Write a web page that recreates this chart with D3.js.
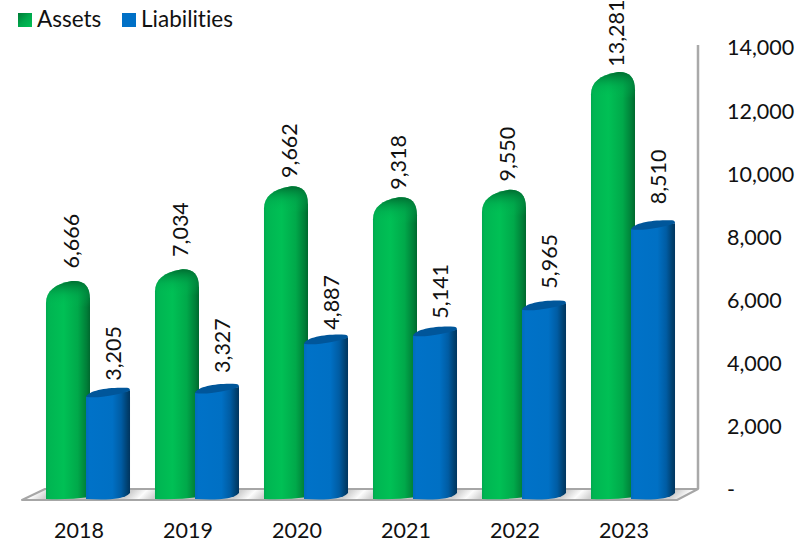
<!DOCTYPE html>
<html>
<head>
<meta charset="utf-8">
<script src="https://cdnjs.cloudflare.com/ajax/libs/d3/7.8.5/d3.min.js"></script>
<style>
  html, body { margin: 0; padding: 0; background: #fff; }
  text { font-family: Lato, "Open Sans", sans-serif; fill: #111; font-variant-ligatures: none; }
</style>
</head>
<body>
<div id="my_dataviz"></div>
<script>
var years = ["2018", "2019", "2020", "2021", "2022", "2023"];
var seriesNames = ["Assets", "Liabilities"];
var assets = [6666, 7034, 9662, 9318, 9550, 13281];
var liabilities = [3205, 3327, 4887, 5141, 5965, 8510];
var yTicks = [0, 2000, 4000, 6000, 8000, 10000, 12000, 14000];

// hand placed label gaps above each bar
var assetGaps = [11, 11, 7, 6, 7, 4];
var liabilityGaps = [8, 12, 6, 9, 13, 17];

var width = 809, height = 543;
var fontSize = 21.5;

var svg = d3.select("#my_dataviz")
    .append("svg")
    .attr("width", width)
    .attr("height", height)
    .style("display", "block");

var defs = svg.append("defs");

function hGradient(id, stops) {
    var g = defs.append("linearGradient").attr("id", id)
        .attr("x1", "0").attr("x2", "1").attr("y1", "0").attr("y2", "0");
    stops.forEach(function(s) {
        g.append("stop").attr("offset", s[0]).attr("stop-color", s[1]);
    });
}

hGradient("greenBar", [[0, "#00a84f"], [0.06, "#00b552"], [0.4, "#00c055"], [0.72, "#00a94a"], [0.92, "#007f38"], [1, "#00682e"]]);
hGradient("blueBar", [[0, "#006cbe"], [0.08, "#0072c8"], [0.6, "#0070c4"], [0.8, "#005ca3"], [0.94, "#00406f"], [1, "#00355f"]]);

// dark rounding at the top of the green bars
var cap = defs.append("linearGradient").attr("id", "greenCap")
    .attr("x1", "0").attr("x2", "0").attr("y1", "0").attr("y2", "1");
cap.append("stop").attr("offset", 0).attr("stop-color", "#006b30").attr("stop-opacity", 0.95);
cap.append("stop").attr("offset", 0.55).attr("stop-color", "#00a24b").attr("stop-opacity", 0.35);
cap.append("stop").attr("offset", 1).attr("stop-color", "#00c055").attr("stop-opacity", 0);

// legend swatch
var sw = defs.append("linearGradient").attr("id", "greenSwatch")
    .attr("x1", "0").attr("x2", "1").attr("y1", "0").attr("y2", "1");
sw.append("stop").attr("offset", 0).attr("stop-color", "#007a36");
sw.append("stop").attr("offset", 0.5).attr("stop-color", "#00a84c");
sw.append("stop").attr("offset", 1).attr("stop-color", "#00c055");

// floor stripes, one white streak per gap between the bars
var fl = defs.append("linearGradient").attr("id", "floor")
    .attr("gradientUnits", "userSpaceOnUse")
    .attr("x1", 93).attr("y1", 495).attr("x2", 147.5).attr("y2", 549.5)
    .attr("spreadMethod", "repeat");
fl.append("stop").attr("offset", 0).attr("stop-color", "#c4c4c4");
fl.append("stop").attr("offset", 0.32).attr("stop-color", "#cfcfcf");
fl.append("stop").attr("offset", 0.45).attr("stop-color", "#fcfcfc");
fl.append("stop").attr("offset", 0.58).attr("stop-color", "#d0d0d0");
fl.append("stop").attr("offset", 1).attr("stop-color", "#c4c4c4");

// scales
var y = d3.scaleLinear().domain([0, 14000]).range([490, 48]);
var x = d3.scaleBand().domain(years).range([33.5, 687.5]).paddingInner(0.229).paddingOuter(0.1145);
var xSeries = d3.scaleBand().domain(seriesNames).range([0, x.bandwidth()]);

var floorY = y(0);

// wall + floor
svg.append("line")
    .attr("x1", 698).attr("x2", 698)
    .attr("y1", 45).attr("y2", floorY - 1)
    .attr("stroke", "#a9a9a9").attr("stroke-width", 2.5);

svg.append("path")
    .attr("d", "M22," + (floorY + 10) + "L45," + (floorY - 1) + "H698L677," + (floorY + 10) + "Z")
    .attr("fill", "url(#floor)")
    .attr("stroke", "#a6a6a6")
    .attr("stroke-width", 2)
    .attr("stroke-linejoin", "round");

var bottom = floorY + 9;

function greenTop(x0, x1, top) {
    return "C" + x0 + "," + (top + 10) + " " + (x0 + 9) + "," + (top + 3) + " " + (x0 + 26) + "," + top +
        "C" + (x1 - 8) + "," + (top - 1) + " " + x1 + "," + (top + 3) + " " + x1 + "," + (top + 18);
}

function greenPath(x0, w, top) {
    var x1 = x0 + w;
    return "M" + x0 + "," + bottom +
        "V" + (top + 22) + greenTop(x0, x1, top) +
        "V" + (bottom - 2) +
        "Q" + (x0 + 22) + "," + (bottom + 1) + " " + x0 + "," + bottom + "Z";
}

function greenCapPath(x0, w, top) {
    var x1 = x0 + w;
    return "M" + x0 + "," + (top + 26) +
        "V" + (top + 22) + greenTop(x0, x1, top) +
        "V" + (top + 26) + "Z";
}

function bluePath(x0, w, top) {
    var x1 = x0 + w;
    return "M" + x0 + "," + (top + 9) +
        "V" + bottom +
        "C" + (x0 + 18) + "," + (bottom + 1) + " " + (x1 - 6) + "," + (bottom + 1) + " " + x1 + "," + (bottom - 6) +
        "V" + (top + 3) +
        "Z";
}

function blueTopPath(x0, w, top) {
    var x1 = x0 + w;
    return "M" + x0 + "," + (top + 9) +
        "C" + (x0 + 3) + "," + (top + 2) + " " + (x0 + 24) + "," + (top - 1) + " " + (x1 - 3) + "," + top +
        "Q" + x1 + "," + top + " " + x1 + "," + (top + 3) +
        "C" + (x1 - 12) + "," + (top + 7) + " " + (x0 + 12) + "," + (top + 11) + " " + x0 + "," + (top + 9) + "Z";
}

var groups = svg.selectAll("g.year")
    .data(years)
    .enter()
    .append("g")
    .attr("class", "year")
    .attr("transform", function(d) { return "translate(" + x(d) + ",0)"; });

var barW = xSeries.bandwidth() + 2;

groups.append("path")
    .attr("d", function(d, i) { return greenPath(xSeries("Assets"), barW, y(assets[i]) + 1.5); })
    .attr("fill", "url(#greenBar)");

groups.append("path")
    .attr("d", function(d, i) { return greenCapPath(xSeries("Assets"), barW, y(assets[i]) + 1.5); })
    .attr("fill", "url(#greenCap)");

groups.append("path")
    .attr("d", function(d, i) { return bluePath(xSeries("Liabilities") - 2, barW, y(liabilities[i]) - 1); })
    .attr("fill", "url(#blueBar)");

groups.append("path")
    .attr("d", function(d, i) { return blueTopPath(xSeries("Liabilities") - 2, barW, y(liabilities[i]) - 1); })
    .attr("fill", "#00569a");

// value labels
function valueLabel(name, values, dx, gaps) {
    groups.append("text")
        .attr("transform", function(d, i) {
            return "translate(" + (xSeries(name) + dx) + "," + (y(values[i]) - gaps[i]) + ") rotate(-90)";
        })
        .attr("dy", "0.35em")
        .style("font-size", fontSize + "px")
        .text(function(d, i) { return d3.format(",")(values[i]); });
}
valueLabel("Assets", assets, 25, assetGaps);
valueLabel("Liabilities", liabilities, 25, liabilityGaps);

// axes
var yAxis = d3.axisRight(y)
    .tickValues(yTicks)
    .tickSize(0)
    .tickPadding(0)
    .tickFormat(function(d) { return d === 0 ? "-" : d3.format(",")(d); });

var yG = svg.append("g").attr("transform", "translate(727,0)").call(yAxis);
yG.select(".domain").remove();
yG.selectAll("text").style("font-size", fontSize + "px").style("font-family", null).attr("fill", null);

var xAxis = d3.axisBottom(x).tickSize(0).tickPadding(0);
var xG = svg.append("g").attr("transform", "translate(-9,523)").call(xAxis);
xG.select(".domain").remove();
xG.selectAll("text").style("font-size", fontSize + "px").attr("fill", null);

// legend
var legendX = d3.scaleOrdinal().domain(seriesNames).range([18, 122]);
var legendFill = d3.scaleOrdinal().domain(seriesNames).range(["url(#greenSwatch)", "#0070c6"]);

var legend = svg.selectAll("g.legend")
    .data(seriesNames)
    .enter()
    .append("g")
    .attr("class", "legend")
    .attr("transform", function(d) { return "translate(" + legendX(d) + ",13)"; });

legend.append("rect").attr("width", 14).attr("height", 14).attr("fill", legendFill);
legend.append("text")
    .attr("x", 19).attr("y", 6.5).attr("dy", "0.35em")
    .style("font-size", "22.5px")
    .text(function(d) { return d; });
</script>
</body>
</html>
